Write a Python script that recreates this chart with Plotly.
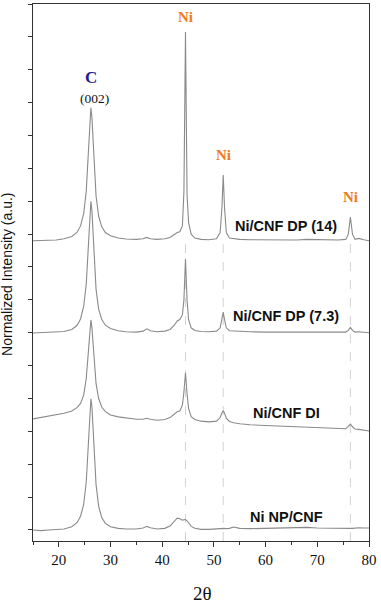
import plotly.graph_objects as go

two_theta = [15, 16.5, 18, 19.5, 21, 22.5, 23.5, 24.2, 24.8, 25.3, 25.7, 26.0, 26.2, 26.4, 26.8,
             27.2, 27.7, 28.3, 29, 30, 31.5, 33, 35, 36.3, 37, 37.7, 39, 40.5, 41.5, 42.3,
             42.9, 43.4, 43.9, 44.2, 44.5, 44.8, 45.1, 45.6, 46.3, 47.5, 49, 50.5, 51.2, 51.55,
             51.8, 52.05, 52.4, 53, 53.8, 55, 57, 60, 63, 66, 68, 70, 72, 74, 75.5, 76.0,
             76.4, 76.8, 77.3, 78, 79, 80]

dp14 = [8.80, 8.80, 8.82, 8.82, 8.86, 8.93, 9.05, 9.25, 9.62, 10.30, 11.45, 12.55, 12.84, 12.55, 11.10,
        10.15, 9.55, 9.22, 9.05, 8.95, 8.88, 8.85, 8.84, 8.86, 8.90, 8.86, 8.84, 8.86, 8.90, 8.98,
        9.05, 9.07, 9.25, 10.30, 15.15, 10.20, 9.35, 9.00, 8.88, 8.84, 8.83, 8.86, 9.05, 9.80,
        10.80, 9.80, 9.05, 8.88, 8.86, 8.84, 8.83, 8.82, 8.82, 8.82, 8.84, 8.83, 8.82, 8.82, 8.84, 9.00,
        9.52, 9.00, 8.84, 8.87, 8.83, 8.80]

dp73 = [5.99, 6.00, 6.01, 6.01, 6.04, 6.10, 6.22, 6.42, 6.80, 7.48, 8.62, 9.70, 10.00, 9.70, 8.30,
        7.32, 6.72, 6.40, 6.23, 6.13, 6.06, 6.03, 6.02, 6.05, 6.12, 6.06, 6.03, 6.05, 6.10, 6.22,
        6.36, 6.40, 6.55, 7.00, 8.24, 7.00, 6.40, 6.15, 6.07, 6.04, 6.03, 6.05, 6.15, 6.40,
        6.63, 6.40, 6.15, 6.06, 6.05, 6.04, 6.03, 6.02, 6.02, 6.02, 6.03, 6.02, 6.01, 6.01, 6.02, 6.07,
        6.16, 6.07, 6.02, 6.03, 6.01, 6.00]

di = [3.38, 3.42, 3.46, 3.50, 3.55, 3.62, 3.72, 3.85, 4.10, 4.60, 5.42, 6.15, 6.39, 6.15, 5.15,
      4.45, 4.00, 3.74, 3.60, 3.50, 3.44, 3.40, 3.37, 3.37, 3.40, 3.37, 3.34, 3.36, 3.42, 3.52,
      3.60, 3.62, 3.80, 4.20, 4.78, 4.15, 3.70, 3.45, 3.36, 3.31, 3.29, 3.31, 3.42, 3.56,
      3.63, 3.55, 3.40, 3.30, 3.26, 3.23, 3.20, 3.18, 3.16, 3.14, 3.13, 3.12, 3.11, 3.09, 3.08, 3.15,
      3.22, 3.14, 3.07, 3.06, 3.04, 3.01]

np_cnf = [0.00, -0.02, 0.00, 0.01, 0.03, 0.10, 0.22, 0.42, 0.78, 1.45, 2.55, 3.65, 3.99, 3.75, 2.45,
          1.38, 0.72, 0.38, 0.20, 0.10, 0.05, 0.03, 0.03, 0.06, 0.11, 0.07, 0.03, 0.05, 0.12, 0.26,
          0.36, 0.34, 0.30, 0.31, 0.32, 0.28, 0.20, 0.11, 0.05, 0.02, 0.02, 0.03, 0.04, 0.05,
          0.06, 0.05, 0.04, 0.05, 0.09, 0.05, 0.04, 0.05, 0.06, 0.07, 0.08, 0.06, 0.05, 0.04, 0.04, 0.04,
          0.05, 0.05, 0.06, 0.07, 0.06, 0.06]

sample_names = ["Ni/CNF DP (14)", "Ni/CNF DP (7.3)", "Ni/CNF DI", "Ni NP/CNF"]
sample_label_y = [9.25, 6.51, 3.56, 0.40]
ni_peaks = [44.5, 51.8, 76.4]
ni_label_y = [15.6, 11.41, 10.13]
x_ticks = [20, 30, 40, 50, 60, 70, 80]

SERIF = "Liberation Serif, Times New Roman, serif"
SANS = "Liberation Sans, Arial, sans-serif"

fig = go.Figure()
for ys in [np_cnf, di, dp73, dp14]:
    fig.add_trace(go.Scatter(x=two_theta, y=ys, mode="lines",
                             line=dict(color="#8a8a8a", width=1.1), showlegend=False))

for xp in ni_peaks:
    fig.add_shape(type="line", x0=xp, x1=xp, y0=-0.335, y1=8.9, layer="below",
                  line=dict(color="#c8c8c8", width=0.8, dash="dash"))

for name, ly in zip(sample_names, sample_label_y):
    fig.add_annotation(x=64.0, y=ly, text="<b>" + name + "</b>", showarrow=False,
                       font=dict(family=SANS, size=14.5, color="#111111"))

for xp, ly in zip(ni_peaks, ni_label_y):
    fig.add_annotation(x=xp, y=ly, text="<b>Ni</b>", showarrow=False,
                       font=dict(family=SERIF, size=15, color="#EE7A22"))

fig.add_annotation(x=26.3, y=13.75, text="<b>C</b>", showarrow=False,
                   font=dict(family=SERIF, size=17, color="#1E1E8C"))
fig.add_annotation(x=26.8, y=13.14, text="(002)", showarrow=False,
                   font=dict(family=SERIF, size=13.5, color="#111111"))

# axis titles as paper annotations
fig.add_annotation(xref="paper", yref="paper", x=0.505, y=-0.098, yanchor="middle",
                   text="2θ", showarrow=False,
                   font=dict(family=SERIF, size=19, color="#111"))
fig.add_annotation(xref="paper", yref="paper", x=-0.078, y=0.497, xanchor="center",
                   yanchor="middle", textangle=-90,
                   text="Normalized Intensity (a.u.)", showarrow=False,
                   font=dict(family=SANS, size=14, color="#111"))

fig.update_layout(
    width=381, height=604,
    margin=dict(l=33, r=12, t=4, b=63, autoexpand=False),
    paper_bgcolor="white", plot_bgcolor="white",
    xaxis=dict(range=[15, 80], tickvals=x_ticks, ticks="outside", ticklen=5, tickcolor="#333",
               showline=True, linecolor="#333", linewidth=1, mirror=True, showgrid=False,
               zeroline=False, automargin=False,
               minor=dict(dtick=5, tick0=15, ticks="outside", ticklen=3, tickcolor="#333"),
               tickfont=dict(family=SERIF, size=15, color="#111")),
    yaxis=dict(range=[-0.335, 16.0], tickvals=list(range(0, 17)), ticks="outside", ticklen=4,
               tickcolor="#333", showticklabels=False, automargin=False,
               showline=True, linecolor="#333", linewidth=1, mirror=True, showgrid=False,
               zeroline=False),
)

fig.write_html("out.html", config={"displayModeBar": False},
               post_script="document.body.style.margin='0';document.body.style.padding='0';"
                           "document.documentElement.style.overflow='hidden';")
